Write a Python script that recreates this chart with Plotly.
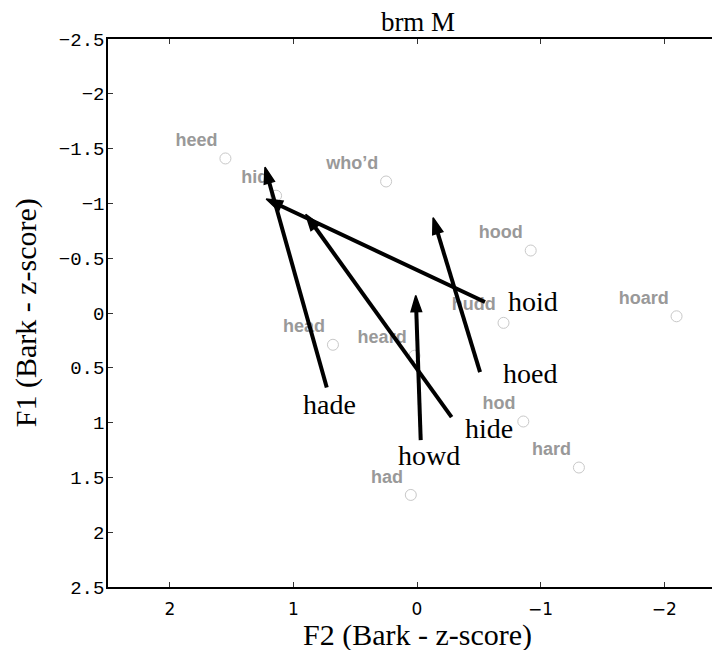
import plotly.graph_objects as go

# Monophthong reference points (F2, F1 in Bark z-scores)
words = ["heed", "hid", "who\u2019d", "hood", "hoard", "hudd", "head", "heard", "hod", "hard", "had"]
f2 = [1.55, 1.14, 0.25, -0.92, -2.10, -0.70, 0.68, 0.02, -0.86, -1.31, 0.05]
f1 = [-1.41, -1.07, -1.20, -0.57, 0.03, 0.09, 0.29, 0.39, 0.99, 1.41, 1.66]

# Diphthong trajectories (start -> end)
diph = ["hade", "hoid", "hide", "howd", "hoed"]
d_f2_start = [0.73, -0.55, -0.28, -0.03, -0.51]
d_f1_start = [0.68, -0.10, 0.95, 1.16, 0.54]
d_f2_end = [1.23, 1.22, 0.90, 0.01, -0.13]
d_f1_end = [-1.33, -1.04, -0.90, -0.16, -0.87]

x_ticks = [2, 1, 0, -1, -2]
x_ticktext = ["2", "1", "0", "\u22121", "\u22122"]
y_ticks = [-2.5, -2, -1.5, -1, -0.5, 0, 0.5, 1, 1.5, 2, 2.5]
y_ticktext = ["\u22122.5", "\u22122", "\u22121.5", "\u22121", "\u22120.5", "0", "0.5", "1", "1.5", "2", "2.5"]

# label pixel offsets for diphthong names (style only)
label_shift = {"hade": (3, -17), "hoid": (48, 1), "hide": (37, -11), "howd": (8, -15), "hoed": (50, -1)}

fig = go.Figure()

fig.add_trace(go.Scatter(
    x=f2, y=f1, mode="markers+text", text=words, textposition="top left",
    marker=dict(symbol="circle-open", size=11, color="#c8c8c8", line=dict(width=1, color="#c8c8c8")),
    textfont=dict(family="Liberation Sans", size=18, color="#999999", weight="bold"),
    hoverinfo="skip", showlegend=False,
))

for i, name in enumerate(diph):
    fig.add_trace(go.Scatter(
        x=[d_f2_start[i], d_f2_end[i]], y=[d_f1_start[i], d_f1_end[i]],
        mode="lines+markers",
        line=dict(color="black", width=4),
        marker=dict(symbol="arrow", size=[0, 17], color="black", angleref="previous",
                    opacity=1, line=dict(width=1.5, color="black")),
        hoverinfo="skip", showlegend=False,
    ))
    dx, dy = label_shift[name]
    fig.add_annotation(
        x=d_f2_start[i], y=d_f1_start[i], xref="x", yref="y", text=name,
        showarrow=False, xanchor="center", yanchor="middle", xshift=dx, yshift=dy,
        font=dict(family="Liberation Serif", size=28, color="black"),
    )

fig.add_annotation(
    x=0.5, y=-(627 - 579) / 548, xref="paper", yref="paper",
    text="F2 (Bark - z-score)", showarrow=False, xanchor="center", yanchor="middle",
    font=dict(family="Liberation Serif", size=30, color="black"),
)
fig.add_annotation(
    x=-(100 - 18) / 620, y=0.5, xref="paper", yref="paper",
    text="F1 (Bark - z-score)", showarrow=False, xanchor="center", yanchor="middle",
    textangle=-90,
    font=dict(family="Liberation Serif", size=30, color="black"),
)

fig.update_layout(
    width=720, height=650,
    margin=dict(l=100, r=0, t=31, b=71),
    paper_bgcolor="white", plot_bgcolor="white",
    title=dict(text="brm M", x=410 / 720, xanchor="center",
               y=1 - 14 / 650, yanchor="middle", yref="container",
               font=dict(family="Liberation Serif", size=27, color="black")),
    xaxis=dict(range=[2.5, -2.5], showgrid=False, zeroline=False,
               showline=True, linecolor="black", linewidth=1.5, mirror="ticks",
               ticks="inside", ticklen=5, tickcolor="#333333", tickwidth=1,
               tickvals=x_ticks, ticktext=x_ticktext, ticklabelstandoff=6,
               tickfont=dict(family="DejaVu Sans", size=17, color="black")),
    yaxis=dict(range=[2.5, -2.5], showgrid=False, zeroline=False,
               showline=True, linecolor="black", linewidth=1.5, mirror="ticks",
               ticks="inside", ticklen=5, tickcolor="#333333", tickwidth=1,
               tickvals=y_ticks, ticktext=y_ticktext, ticklabelstandoff=-2,
               tickfont=dict(family="Liberation Mono", size=19, color="black")),
)

fig.write_html("out.html")
